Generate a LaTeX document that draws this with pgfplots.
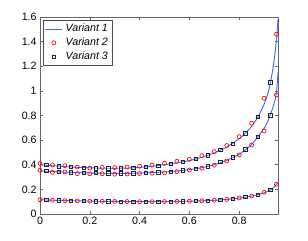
\documentclass[border=0pt]{standalone}
\usepackage{pgfplots}
\usepackage{pgfplotstable}
\pgfplotsset{compat=1.18}
\usepackage{fontspec}
\setmainfont{Liberation Sans}

\definecolor{mblue}{rgb}{0.25,0.4,1}
\pgfplotsset{
  lineleg/.style={legend image code/.code={\draw[draw=mblue, line width=0.7pt] (0pt,0pt) -- (13pt,0pt);}},
  markleg/.style={legend image code/.code={\draw[##1] plot coordinates {(6.5pt,0pt)};}},
}

\pgfplotstableread{
x     top    mid    bot
0     0.400  0.350  0.115
0.05  0.392  0.345  0.112
0.1   0.385  0.340  0.109
0.15  0.379  0.336  0.107
0.2   0.375  0.333  0.105
0.25  0.372  0.331  0.103
0.3   0.371  0.330  0.102
0.35  0.373  0.330  0.101
0.4   0.378  0.332  0.100
0.45  0.387  0.336  0.100
0.5   0.400  0.341  0.101
0.55  0.415  0.349  0.102
0.6   0.433  0.360  0.104
0.65  0.460  0.376  0.107
0.7   0.495  0.400  0.111
0.75  0.543  0.435  0.118
0.8   0.610  0.485  0.129
0.825 0.655  0.520  0.136
0.85  0.710  0.565  0.145
0.875 0.785  0.625  0.156
0.9   0.890  0.695  0.172
0.915 0.975  0.750  0.185
0.925 1.060  0.805  0.196
0.935 1.170  0.862  0.210
0.945 1.320  0.930  0.228
0.95  1.420  0.990  0.240
0.953 1.495  1.060  0.247
0.956 1.580  1.150  0.255
}\linedata

\pgfplotstableread{
x     top    mid    bot
0     0.410  0.355  0.116
0.05  0.398  0.338  0.112
0.1   0.392  0.342  0.108
0.15  0.381  0.328  0.106
0.2   0.373  0.326  0.104
0.25  0.378  0.327  0.103
0.3   0.377  0.323  0.102
0.35  0.381  0.325  0.101
0.4   0.388  0.329  0.100
0.45  0.397  0.331  0.100
0.5   0.412  0.334  0.101
0.55  0.428  0.344  0.102
0.6   0.444  0.357  0.104
0.65  0.474  0.372  0.107
0.7   0.507  0.396  0.111
0.75  0.556  0.430  0.118
0.8   0.628  0.480  0.130
0.85  0.737  0.560  0.146
0.9   0.940  0.674  0.176
0.95  1.460  0.967  0.241
}\circdata

\pgfplotstableread{
x     top    mid    bot
0.025 0.397  0.349  0.114
0.075 0.387  0.344  0.110
0.125 0.383  0.339  0.107
0.175 0.377  0.335  0.105
0.225 0.372  0.332  0.104
0.275 0.370  0.331  0.102
0.325 0.371  0.330  0.101
0.375 0.375  0.331  0.100
0.425 0.383  0.334  0.100
0.475 0.393  0.338  0.100
0.525 0.407  0.345  0.101
0.575 0.424  0.355  0.103
0.625 0.446  0.368  0.105
0.675 0.477  0.388  0.109
0.725 0.520  0.425  0.114
0.775 0.572  0.460  0.122
0.825 0.655  0.525  0.137
0.875 0.790  0.628  0.155
0.925 1.070  0.800  0.195
}\sqdata

\begin{document}
\begin{tikzpicture}
\begin{axis}[
  name=ax,
  scale only axis,
  width=178.5pt, height=147.75pt,
  xmin=0, xmax=0.956, ymin=0, ymax=1.6,
  xtick={0,0.2,0.4,0.6,0.8},
  xticklabels={0,0.2,0.4,0.6,0.8},
  ytick={0,0.2,0.4,0.6,0.8,1,1.2,1.4,1.6},
  yticklabels={0,0.2,0.4,0.6,0.8,1,1.2,1.4,1.6},
  tick align=inside,
  major tick length=2.5pt,
  every tick/.style={black!60, line width=0.4pt},
  axis line style={black!60, line width=0.5pt},
  ticklabel style={font=\fontsize{8}{9}\selectfont},
  xticklabel style={yshift=1pt},
  yticklabel style={xshift=1pt},
  legend style={at={(0.013,0.985)}, anchor=north west,
    font=\itshape\fontsize{8}{9}\selectfont,
    draw=black!70, line width=0.4pt, inner xsep=1pt, inner ysep=1pt,
    row sep=-1pt},
  legend cell align=left,
]
\addlegendimage{lineleg}
\addlegendentry{Variant 1}
\addlegendimage{only marks, color=red, draw=red, mark=o, mark size=1.5pt, line width=0.5pt, markleg}
\addlegendentry{Variant 2}
\addlegendimage{only marks, color=black!85, draw=black!85, mark=square, mark size=1.25pt, line width=0.5pt, markleg}
\addlegendentry{Variant 3}
\addplot[only marks, red, mark=o, mark size=1.5pt, line width=0.5pt, forget plot] table[x=x, y=top] {\circdata};
\addplot[only marks, red, mark=o, mark size=1.5pt, line width=0.5pt, forget plot] table[x=x, y=mid] {\circdata};
\addplot[only marks, red, mark=o, mark size=1.5pt, line width=0.5pt, forget plot] table[x=x, y=bot] {\circdata};
\addplot[only marks, black!85, mark=square, mark size=1.25pt, line width=0.5pt, forget plot] table[x=x, y=top] {\sqdata};
\addplot[only marks, black!85, mark=square, mark size=1.25pt, line width=0.5pt, forget plot] table[x=x, y=mid] {\sqdata};
\addplot[only marks, black!85, mark=square, mark size=1.25pt, line width=0.5pt, forget plot] table[x=x, y=bot] {\sqdata};
\addplot[mblue, line width=0.7pt, no markers, forget plot] table[x=x, y=top] {\linedata};
\addplot[mblue, line width=0.7pt, no markers, forget plot] table[x=x, y=mid] {\linedata};
\addplot[mblue, line width=0.7pt, no markers, forget plot] table[x=x, y=bot] {\linedata};
\end{axis}
\path (ax.south west) ++(-30pt,-20.25pt) coordinate (bbsw);
\path (ax.north east) ++(22.5pt,12.75pt) coordinate (bbne);
\end{tikzpicture}
\end{document}
